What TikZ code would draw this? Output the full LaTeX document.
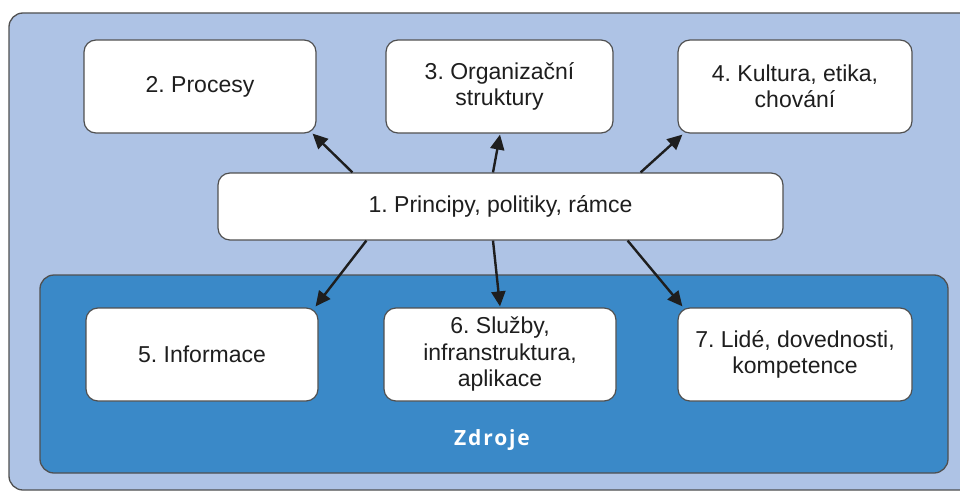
\documentclass[tikz,border=0pt]{standalone}
\usepackage{fontspec}
\setmainfont{Liberation Sans}
\newfontfamily\labelfont[LetterSpace=9]{Open Sans}
\usetikzlibrary{arrows.meta,calc}
\frenchspacing

\definecolor{outerfill}{RGB}{174,195,229}
\definecolor{innerfill}{RGB}{58,137,200}
\definecolor{edgegray}{RGB}{80,80,80}
\definecolor{inkdark}{RGB}{30,30,30}

\tikzset{
  panel/.style={draw=edgegray, line width=1.3pt, rounded corners=14pt},
  itembox/.style={draw=edgegray, line width=1.2pt, fill=white, rounded corners=12pt,
    minimum width=232pt, minimum height=93pt, align=center, inner sep=0pt,
    font=\fontsize{23}{26.5}\selectfont, text=inkdark},
  link/.style={draw=inkdark, line width=2.4pt, -{Triangle[length=15pt,width=14pt]}}
}

\begin{document}
\begin{tikzpicture}[x=1pt, y=-1pt]
  \useasboundingbox (0,0) rectangle (960,492);
  \clip (0,0) rectangle (960,492);
  \fill[white] (0,0) rectangle (960,492);

  % enclosing panel, open to the right edge
  \draw[panel, fill=outerfill] (9,13) rectangle (990,490);
  % resources panel
  \draw[panel, fill=innerfill] (40,275) rectangle (948,473);
  \node[text=white, font=\labelfont\bfseries\fontsize{21}{24}\selectfont] (zdroje) at (492,440) {Zdroje};

  % central node
  \node[itembox, minimum width=565pt, minimum height=67pt] (p) at (500.5,206.5) {1. Principy, politiky, rámce};

  % upper row
  \node[itembox] (b2) at (200,86.5) {2. Procesy};
  \node[itembox, minimum width=227pt] (b3) at (499.5,86.5) {3. Organizační\\struktury};
  \node[itembox, minimum width=234pt] (b4) at (795,86.5) {4. Kultura, etika,\\chování};

  % lower row (resources)
  \node[itembox] (b5) at (202,354.5) {5. Informace};
  \node[itembox] (b6) at (500,354.5) {6. Služby,\\infranstruktura,\\aplikace};
  \node[itembox, minimum width=234pt] (b7) at (795,354.5) {7. Lidé, dovednosti,\\kompetence};

  % connectors
  \draw[link] ($(p.north west)+(135,0)$) -- ($(b2.south east)+(-4,0)$);
  \draw[link] ($(p.north)+(-7.5,0)$) -- ($(b3.south)+(0.5,1)$);
  \draw[link] ($(p.north east)+(-143,0)$) -- ($(b4.south west)+(5,1)$);
  \draw[link] ($(p.south west)+(149,0)$) -- ($(b5.north east)+(-3,-1)$);
  \draw[link] ($(p.south)+(-7.5,0)$) -- ($(b6.north)+(0,-1)$);
  \draw[link] ($(p.south east)+(-156,0)$) -- ($(b7.north west)+(5,-1)$);
\end{tikzpicture}
\end{document}
